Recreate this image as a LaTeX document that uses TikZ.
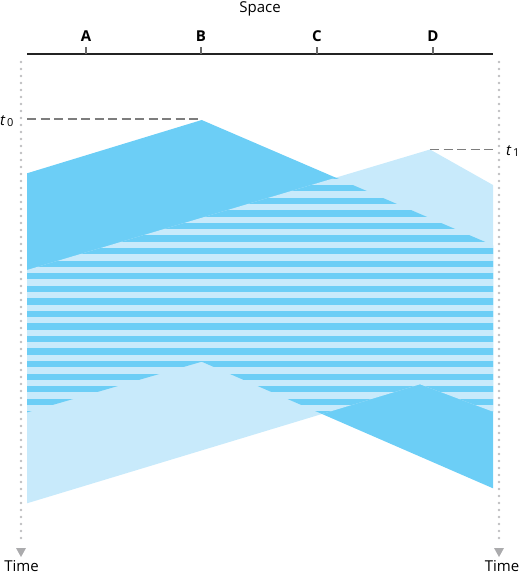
\documentclass[tikz,border=0pt]{standalone}
\usepackage{fontspec}
\setmainfont{Open Sans}
\definecolor{bdark}{RGB}{108,206,246}
\definecolor{blight}{RGB}{200,234,251}
\definecolor{dotgray}{RGB}{190,190,192}
\definecolor{dashgray}{RGB}{125,125,125}
\definecolor{tickgray}{RGB}{105,105,105}
\definecolor{axisblack}{RGB}{35,35,35}
\tikzset{
  lbl/.style={font=\fontsize{15}{15}\selectfont, inner sep=0pt, anchor=base},
  stlbl/.style={font=\fontsize{15}{15}\selectfont\bfseries, inner sep=0pt, anchor=base},
  tickline/.style={draw=tickgray, line width=1.4pt},
  axisline/.style={draw=axisblack, line width=1.4pt},
  timeline/.style={draw=dotgray, line width=2.7pt, line cap=round, dash pattern=on 0pt off 7pt},
  timehead/.style={fill=dotgray!90!black},
  tdash/.style={draw=dashgray, line width=1.8pt, dash pattern=on 9pt off 4.5pt},
}
\begin{document}
\begin{tikzpicture}[x=1pt,y=-1pt]
\useasboundingbox (0,0) rectangle (521,575);
% signal regions
\def\Bregion{(27,173.3) -- (201.7,120) -- (493,245.3) -- (493,488.3) -- (201.7,361.7) -- (27,412.4) -- cycle}
\def\Dregion{(27,270) -- (430,149.5) -- (493,185) -- (493,411.7) -- (420,384.3) -- (27,503.3) -- cycle}
\fill[bdark] \Bregion;
\fill[blight] \Dregion;
\begin{scope}
  \clip \Bregion;
  \clip \Dregion;
  \foreach \k in {-1,...,20}{
    \fill[bdark] (20,{185.2+12.56*\k}) rectangle (500,{191.48+12.56*\k});
  }
\end{scope}
% space axis
\node[lbl] (space) at (260,13) {Space};
\coordinate (axL) at (27,54);
\coordinate (axR) at (493,54);
\draw[axisline] (axL) -- (axR);
\foreach \n/\x in {A/86,B/201,C/317,D/433}{
  \coordinate (tk\n) at (\x,54);
  \coordinate (tt\n) at (\x,47);
  \draw[tickline] (tk\n) -- (tt\n);
  \node[stlbl] (lab\n) at (\x,41.5) {\n};
}
% time axes
\coordinate (tlTop) at (21,62);
\coordinate (tlBot) at (21,543);
\coordinate (trTop) at (499,62);
\coordinate (trBot) at (499,543);
\draw[timeline] (tlTop) -- (tlBot);
\draw[timeline] (trTop) -- (trBot);
\fill[timehead] (16,548) -- (26,548) -- (21,557) -- cycle;
\fill[timehead] (494,548) -- (504,548) -- (499,557) -- cycle;
\node[lbl] (timeL) at (21.5,571.5) {Time};
\node[lbl] (timeR) at (502,571.5) {Time};
% t0 and t1
\coordinate (t0a) at (27,119);
\coordinate (t0b) at (201,119);
\draw[tdash] (t0a) -- (t0b);
\node[lbl, anchor=base west] (tzero) at (0,125) {\textit{t}\kern1.5pt\raisebox{-1pt}{\fontsize{11}{11}\selectfont 0}};
\coordinate (t1a) at (430,149.5);
\coordinate (t1b) at (497,149.5);
\draw[tdash] (t1a) -- (t1b);
\node[lbl, anchor=base west] (tone) at (506,155) {\textit{t}\kern1.5pt\raisebox{-1pt}{\fontsize{11}{11}\selectfont 1}};
\end{tikzpicture}
\end{document}
